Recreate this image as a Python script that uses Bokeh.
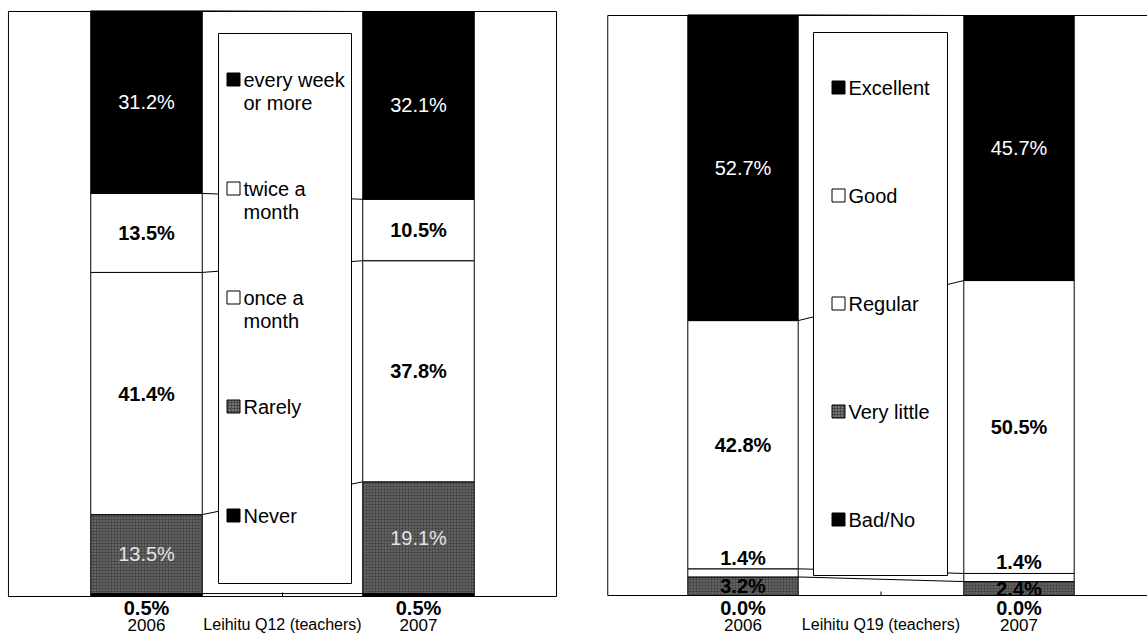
import numpy as np
from bokeh.plotting import figure
from bokeh.layouts import row
from bokeh.models import Range1d, ColumnDataSource
from bokeh.core.properties import value
from bokeh.embed import file_html
from bokeh.resources import INLINE

# ---------------- data ----------------
years = ["2006", "2007"]

# Leihitu Q12 (teachers) -- stack order bottom -> top
q12_title = "Leihitu Q12 (teachers)"
q12_series = ["Never", "Rarely", "once a month", "twice a month", "every week or more"]
q12_2006 = [0.5, 13.5, 41.4, 13.5, 31.2]
q12_2007 = [0.5, 19.1, 37.8, 10.5, 32.1]
q12_legend = ["every week\nor more", "twice a\nmonth", "once a\nmonth", "Rarely", "Never"]

# Leihitu Q19 (teachers) -- stack order bottom -> top
q19_title = "Leihitu Q19 (teachers)"
q19_series = ["Bad/No", "Very little", "Regular", "Good", "Excellent"]
q19_2006 = [0.0, 3.2, 1.4, 42.8, 52.7]
q19_2007 = [0.0, 2.4, 1.4, 50.5, 45.7]
q19_legend = ["Excellent", "Good", "Regular", "Very little", "Bad/No"]

# ---------------- styles ----------------
FONT = value("Liberation Sans")
GRAY = "#4a4a4a"
FILL = {"black": "black", "gray": GRAY, "white": "white"}
q12_fills = ["black", "gray", "white", "white", "black"]
q12_label_kind = ["below", "light", "bold", "bold", "white"]
q19_fills = ["black", "gray", "white", "white", "black"]
q19_label_kind = ["below", "bold", "above", "bold", "white"]
legend_fill_q12 = ["black", "white", "white", "gray", "black"]
legend_fill_q19 = ["black", "white", "white", "gray", "black"]


def make_chart(title, vals_a, vals_b, fills, kinds, legend_labels, legend_fills, g):
    p = figure(frame_width=g["fw"], frame_height=g["fh"],
               x_range=Range1d(*g["xr"]), y_range=Range1d(*g["yr"]),
               x_axis_location=None, y_axis_location=None,
               toolbar_location=None, output_backend="svg",
               min_border_left=g["bl"], min_border_right=g["br"],
               min_border_top=0, min_border_bottom=0)
    p.outline_line_color = None
    p.background_fill_color = "white"
    p.border_fill_color = "white"
    p.xgrid.visible = False
    p.ygrid.visible = False

    w = g["bw"]
    xs = [0, 2]
    series_vals = [vals_a, vals_b]

    # plot-area frame (drawn through scales)
    p.quad(left=[g["frame_l"]], right=[g["frame_r"]], bottom=[0], top=[100],
           fill_color=None, line_color="black", line_width=1)
    # middle category tick
    p.segment(x0=[1], y0=[0], x1=[1], y1=[0.7], line_color="black", line_width=1)

    # stacked bars
    rows = dict(x=[], bottom=[], top=[], fill=[], hatch=[])
    cums = []
    for x, vals in zip(xs, series_vals):
        c = np.concatenate([[0.0], np.cumsum(vals)])
        cums.append(c)
        for i, v in enumerate(vals):
            rows["x"].append(x)
            rows["bottom"].append(c[i])
            rows["top"].append(c[i + 1])
            rows["fill"].append(FILL[fills[i]])
            rows["hatch"].append("dot" if fills[i] == "gray" else " ")
    src = ColumnDataSource(rows)

    # series connector lines between the two bars
    ca, cb = cums
    p.segment(x0=[xs[0] + w / 2] * len(ca), y0=list(ca),
              x1=[xs[1] - w / 2] * len(cb), y1=list(cb),
              line_color="black", line_width=1)

    p.vbar(x="x", width=w, bottom="bottom", top="top", source=src,
           fill_color="fill", line_color="black", line_width=1,
           hatch_pattern="hatch", hatch_color="#8c8c8c", hatch_scale=3, hatch_weight=1)

    # legend box (in the middle category)
    p.quad(left=[g["lg_l"]], right=[g["lg_r"]], bottom=[g["lg_b"]], top=[g["lg_t"]],
           fill_color="white", line_color="black", line_width=1)
    ly = g["row_y"]
    sq_y, sq_fill, sq_hatch = [], [], []
    tx, ty, tt = [], [], []
    for i, lab in enumerate(legend_labels):
        sq_y.append(ly[i])
        sq_fill.append(FILL[legend_fills[i]])
        sq_hatch.append("dot" if legend_fills[i] == "gray" else " ")
        for j, line in enumerate(lab.split("\n")):
            tx.append(g["txt_x"])
            ty.append(ly[i] - j * g["line_dy"])
            tt.append(line)
    p.scatter(x=[g["sq_x"]] * len(sq_y), y=sq_y, marker="square", size=13,
              fill_color=sq_fill, line_color="black", line_width=1,
              hatch_pattern=sq_hatch, hatch_color="#bbbbbb", hatch_scale=3)
    p.text(x=tx, y=ty, text=tt, text_font=FONT, text_font_size="20px",
           text_color="black", text_align="left", text_baseline="middle")

    # value labels
    styles = {
        "white": dict(text_color="white", text_font_style="normal"),
        "bold": dict(text_color="black", text_font_style="bold"),
        "light": dict(text_color="#e4e4e4", text_font_style="normal"),
    }
    groups = {k: dict(x=[], y=[], t=[]) for k in ["white", "bold", "light", "below", "above"]}
    for x, vals, c in zip(xs, series_vals, cums):
        for i, v in enumerate(vals):
            k = kinds[i]
            groups[k]["x"].append(x)
            groups[k]["t"].append(f"{v:.1f}%")
            if k == "below":
                groups[k]["y"].append(g["below_y"])
            elif k == "above":
                groups[k]["y"].append(c[i + 1])
            else:
                groups[k]["y"].append((c[i] + c[i + 1]) / 2)
    for k in ["white", "bold", "light"]:
        d = groups[k]
        if d["x"]:
            p.text(x=d["x"], y=d["y"], text=d["t"], text_font=FONT, text_font_size="20px",
                   text_align="center", text_baseline="middle", **styles[k])
    d = groups["below"]
    if d["x"]:
        p.text(x=d["x"], y=d["y"], text=d["t"], text_font=FONT, text_font_size="20px",
               text_font_style="bold", text_color="black",
               text_align="center", text_baseline="middle")
    d = groups["above"]
    if d["x"]:
        p.text(x=d["x"], y=d["y"], text=d["t"], text_font=FONT, text_font_size="20px",
               text_font_style="bold", text_color="black",
               text_align="center", text_baseline="bottom")

    # category labels
    p.text(x=xs, y=[g["year_y"]] * 2, text=years, text_font=FONT, text_font_size="17px",
           text_color="black", text_align="center", text_baseline="middle")
    p.text(x=[1], y=[g["year_y"]], text=[title], text_font=FONT, text_font_size="16px",
           text_color="black", text_align="center", text_baseline="middle")
    return p


def geom(fw, frame_left_px, x0, ux, top_px, zero_px, bl, br, bw, frame_l, frame_r,
         lg, sq_px, txt_px, row0, row_dy):
    uy = (zero_px - top_px) / 100.0
    frame_top, frame_bot = 0, 634
    toy = lambda py: (zero_px - py) / uy
    tox = lambda px: (px - x0) / ux
    return dict(
        fw=fw, fh=frame_bot - frame_top,
        xr=(tox(frame_left_px), tox(frame_left_px + fw)),
        yr=(toy(frame_bot), toy(frame_top)),
        bl=bl, br=br, bw=bw, frame_l=frame_l, frame_r=frame_r,
        lg_l=tox(lg["l"]), lg_r=tox(lg["r"]), lg_t=toy(lg["t"]), lg_b=toy(lg["b"]),
        sq_x=tox(sq_px), txt_x=tox(txt_px),
        row_y=[toy(row0 + i * row_dy) for i in range(5)],
        line_dy=23 / uy,
        below_y=toy(607), year_y=toy(624),
    )


g1 = geom(fw=566, frame_left_px=4, x0=146, ux=136, top_px=11, zero_px=596,
          bl=4, br=15, bw=0.82, frame_l=-1.015, frame_r=3.015,
          lg=dict(l=218, r=351, t=33, b=583),
          sq_px=233, txt_px=243, row0=79, row_dy=109)
g2 = geom(fw=544, frame_left_px=603, x0=742.5, ux=138, top_px=15, zero_px=595,
          bl=18, br=0, bw=0.80, frame_l=-0.98, frame_r=3.5,
          lg=dict(l=813, r=947, t=32, b=575),
          sq_px=838, txt_px=848, row0=87, row_dy=108)

p1 = make_chart(q12_title, q12_2006, q12_2007, q12_fills, q12_label_kind,
                q12_legend, legend_fill_q12, g1)
p2 = make_chart(q19_title, q19_2006, q19_2007, q19_fills, q19_label_kind,
                q19_legend, legend_fill_q19, g2)

layout = row(p1, p2, spacing=0)
open("out.html", "w").write(file_html(layout, INLINE, "Leihitu teachers"))
